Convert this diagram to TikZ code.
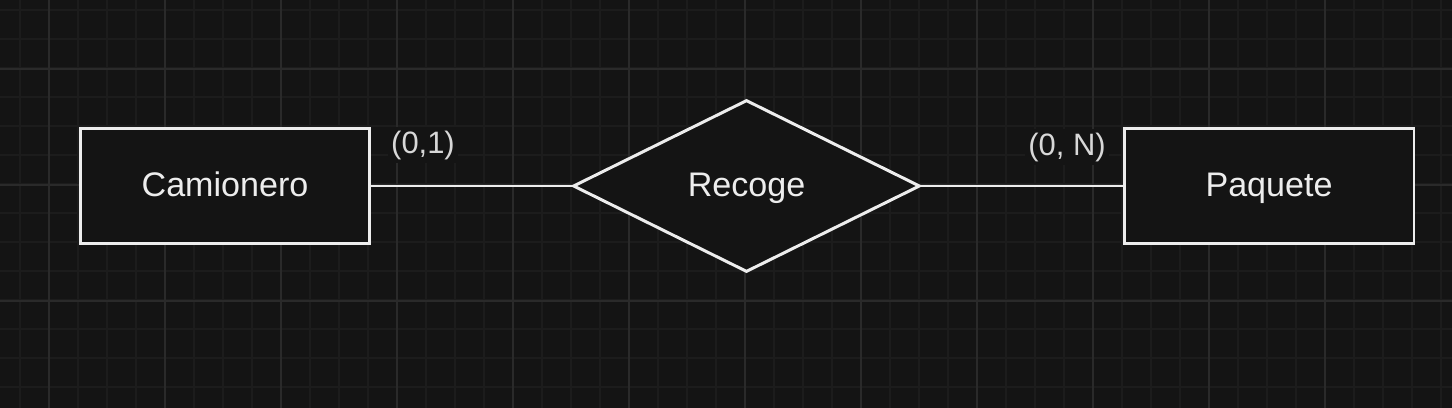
\documentclass[tikz,border=0pt]{standalone}
\usepackage{fontspec}
\setmainfont{Liberation Sans}
\usetikzlibrary{shapes.geometric}
\usepackage{xcolor}
\definecolor{bgDark}{HTML}{141414}
\definecolor{gridMinor}{HTML}{1C1C1C}
\definecolor{gridMajor}{HTML}{2A2A2A}
\definecolor{inkLight}{HTML}{EDEDED}
\definecolor{labelGray}{HTML}{D8D8D8}

\begin{document}
\begin{tikzpicture}[x=0.02cm, y=-0.02cm,
    entity/.style={draw=inkLight, fill=bgDark, line width=1.7pt, rectangle,
      minimum width=5.8cm, minimum height=2.32cm, inner sep=0pt,
      text height=14pt, text depth=1.6pt,
      text=inkLight, font=\fontsize{19.4}{22}\selectfont},
    relation/.style={draw=inkLight, fill=bgDark, line width=1.7pt, diamond,
      aspect=2, minimum width=6.94cm, minimum height=3.44cm, inner sep=0pt,
      text height=14pt, text depth=1.6pt,
      text=inkLight, font=\fontsize{19.4}{22}\selectfont},
    card/.style={fill=bgDark, inner sep=2pt, text=labelGray,
      font=\fontsize{17.6}{20}\selectfont}]
  \useasboundingbox (0,0) rectangle (1452,408);
  \fill[bgDark] (0,0) rectangle (1452,408);

  % grid
  \foreach \i in {0,...,49}
    \draw[gridMinor, line width=1.1pt] (20+29*\i,0) -- ++(0,408);
  \foreach \i in {0,...,13}
    \draw[gridMinor, line width=1.1pt] (0,10+29*\i) -- ++(1452,0);
  \foreach \i in {0,...,11}
    \draw[gridMajor, line width=0.6pt] (49+116*\i,0) -- ++(0,408);
  \foreach \i in {0,...,3}
    \draw[gridMajor, line width=0.6pt] (0,69+116*\i) -- ++(1452,0);

  \node[entity] (camionero) at (225,186) {Camionero};
  \node[relation] (recoge) at (746.5,186) {Recoge};
  \node[entity] (paquete) at (1269,186) {Paquete};

  \draw[inkLight, line width=1.7pt] (camionero.east) -- (recoge.west);
  \draw[inkLight, line width=1.7pt] (recoge.east) -- (paquete.west);

  \node[card] (cardCam) at (423,145) {(0,1)};
  \node[card] (cardPaq) at (1067,147) {(0, N)};
\end{tikzpicture}
\end{document}
